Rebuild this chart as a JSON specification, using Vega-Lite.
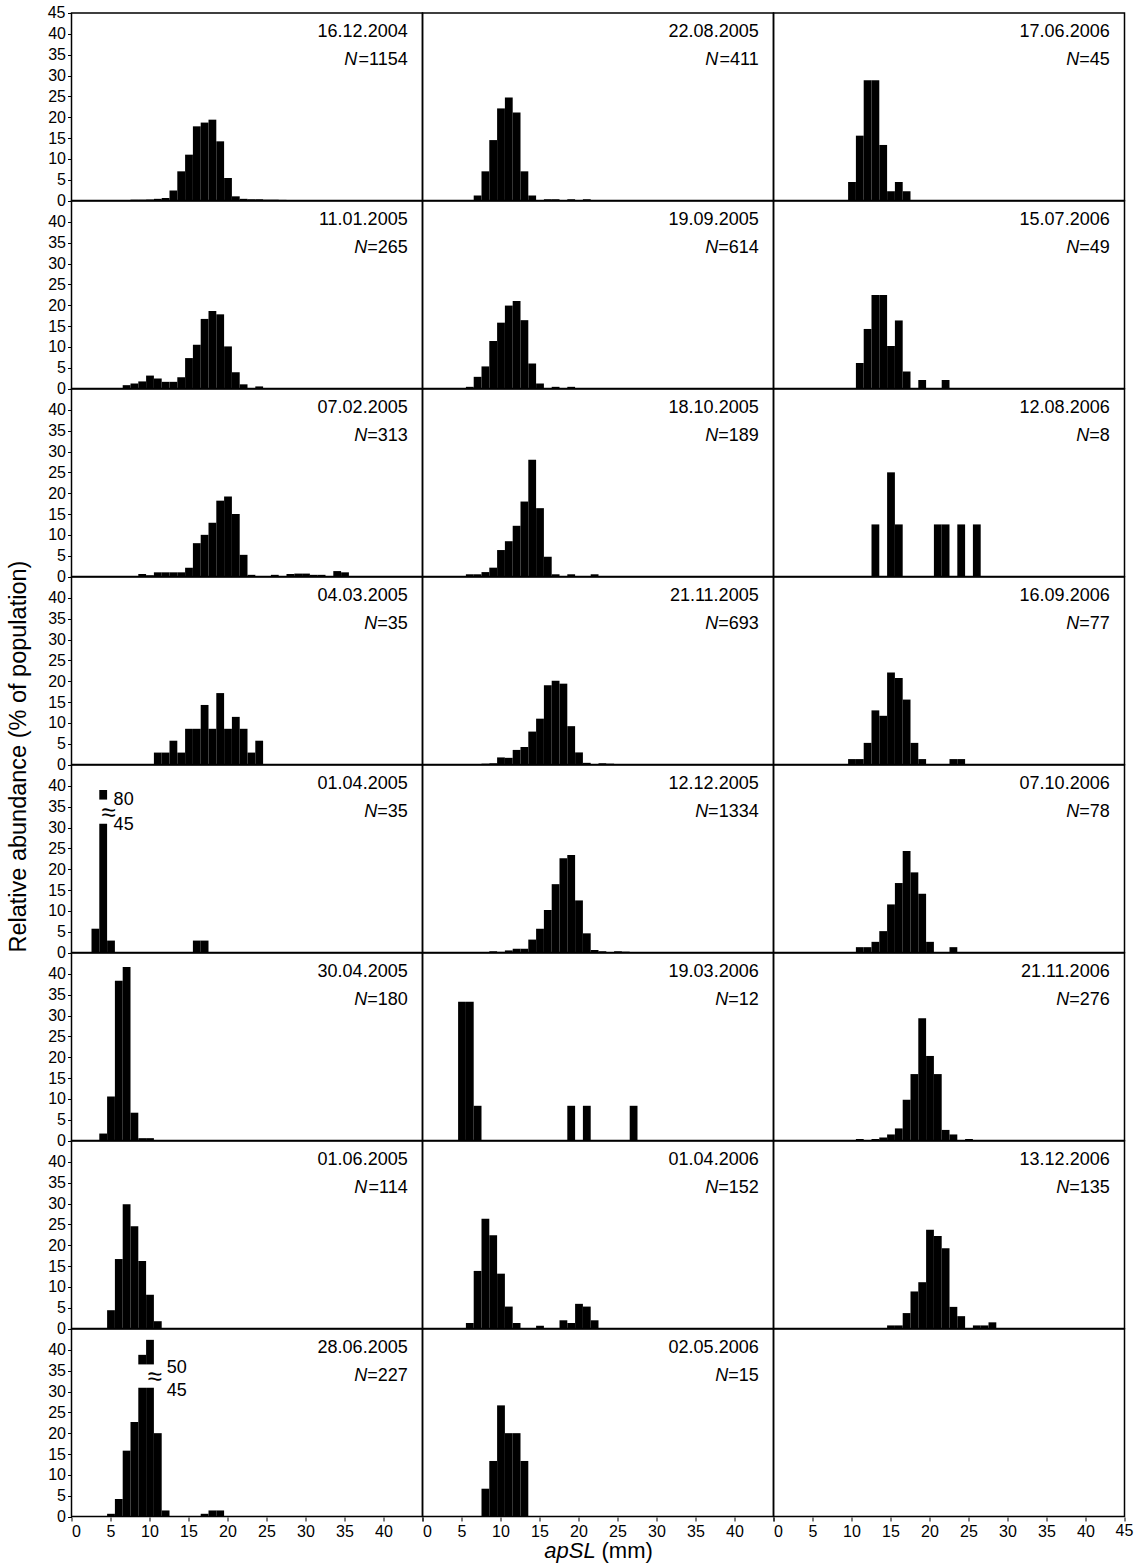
{
  "$schema": "https://vega.github.io/schema/vega-lite/v6.json",
  "background": "white",
  "padding": {"left": 5.5, "top": 4, "right": 10, "bottom": 5},
  "bounds": "flush",
  "config": {
    "font": "Liberation Sans",
    "view": {"stroke": "black", "strokeWidth": 1.5},
    "axis": {"grid": false, "domain": false, "tickColor": "black", "tickSize": 4, "labelFontSize": 16, "labelColor": "black", "labelFont": "Liberation Sans", "labelPadding": 2},
    "text": {"font": "Liberation Sans", "fontSize": 18, "color": "black"}
  },
  "data": {"values": [
    {"r":1,"c":1,"d":"16.12.2004","n":1154},
    {"r":1,"c":1,"x":7.5,"v":0.2},{"r":1,"c":1,"x":8.5,"v":0.2},{"r":1,"c":1,"x":9.5,"v":0.25},{"r":1,"c":1,"x":10.5,"v":0.4},{"r":1,"c":1,"x":11.5,"v":0.6},{"r":1,"c":1,"x":12.5,"v":2.4},{"r":1,"c":1,"x":13.5,"v":7.0},{"r":1,"c":1,"x":14.5,"v":11.0},{"r":1,"c":1,"x":15.5,"v":17.8},{"r":1,"c":1,"x":16.5,"v":18.7},{"r":1,"c":1,"x":17.5,"v":19.4},{"r":1,"c":1,"x":18.5,"v":14.2},{"r":1,"c":1,"x":19.5,"v":5.4},{"r":1,"c":1,"x":20.5,"v":1.0},{"r":1,"c":1,"x":21.5,"v":0.4},{"r":1,"c":1,"x":22.5,"v":0.3},{"r":1,"c":1,"x":23.5,"v":0.3},{"r":1,"c":1,"x":24.5,"v":0.2},{"r":1,"c":1,"x":25.5,"v":0.2},{"r":1,"c":1,"x":26.5,"v":0.15},
    {"r":1,"c":2,"d":"22.08.2005","n":411},
    {"r":1,"c":2,"x":6.5,"v":1.2},{"r":1,"c":2,"x":7.5,"v":7.0},{"r":1,"c":2,"x":8.5,"v":14.5},{"r":1,"c":2,"x":9.5,"v":22.1},{"r":1,"c":2,"x":10.5,"v":24.7},{"r":1,"c":2,"x":11.5,"v":21.1},{"r":1,"c":2,"x":12.5,"v":7.0},{"r":1,"c":2,"x":13.5,"v":1.2},{"r":1,"c":2,"x":15.5,"v":0.3},{"r":1,"c":2,"x":16.5,"v":0.3},{"r":1,"c":2,"x":18.5,"v":0.3},{"r":1,"c":2,"x":20.5,"v":0.3},
    {"r":1,"c":3,"d":"17.06.2006","n":45},
    {"r":1,"c":3,"x":9.5,"v":4.44},{"r":1,"c":3,"x":10.5,"v":15.56},{"r":1,"c":3,"x":11.5,"v":28.89},{"r":1,"c":3,"x":12.5,"v":28.89},{"r":1,"c":3,"x":13.5,"v":13.33},{"r":1,"c":3,"x":14.5,"v":2.22},{"r":1,"c":3,"x":15.5,"v":4.44},{"r":1,"c":3,"x":16.5,"v":2.22},
    {"r":2,"c":1,"d":"11.01.2005","n":265},
    {"r":2,"c":1,"x":6.5,"v":0.8},{"r":2,"c":1,"x":7.5,"v":1.2},{"r":2,"c":1,"x":8.5,"v":1.7},{"r":2,"c":1,"x":9.5,"v":3.1},{"r":2,"c":1,"x":10.5,"v":2.4},{"r":2,"c":1,"x":11.5,"v":1.6},{"r":2,"c":1,"x":12.5,"v":1.6},{"r":2,"c":1,"x":13.5,"v":2.7},{"r":2,"c":1,"x":14.5,"v":7.3},{"r":2,"c":1,"x":15.5,"v":10.5},{"r":2,"c":1,"x":16.5,"v":16.7},{"r":2,"c":1,"x":17.5,"v":18.6},{"r":2,"c":1,"x":18.5,"v":17.8},{"r":2,"c":1,"x":19.5,"v":10.1},{"r":2,"c":1,"x":20.5,"v":3.9},{"r":2,"c":1,"x":21.5,"v":1.0},{"r":2,"c":1,"x":23.5,"v":0.5},
    {"r":2,"c":2,"d":"19.09.2005","n":614},
    {"r":2,"c":2,"x":5.5,"v":0.4},{"r":2,"c":2,"x":6.5,"v":2.8},{"r":2,"c":2,"x":7.5,"v":5.3},{"r":2,"c":2,"x":8.5,"v":11.4},{"r":2,"c":2,"x":9.5,"v":15.8},{"r":2,"c":2,"x":10.5,"v":19.9},{"r":2,"c":2,"x":11.5,"v":21.0},{"r":2,"c":2,"x":12.5,"v":16.4},{"r":2,"c":2,"x":13.5,"v":6.0},{"r":2,"c":2,"x":14.5,"v":1.2},{"r":2,"c":2,"x":16.5,"v":0.4},{"r":2,"c":2,"x":18.5,"v":0.4},
    {"r":2,"c":3,"d":"15.07.2006","n":49},
    {"r":2,"c":3,"x":10.5,"v":6.12},{"r":2,"c":3,"x":11.5,"v":14.29},{"r":2,"c":3,"x":12.5,"v":22.45},{"r":2,"c":3,"x":13.5,"v":22.45},{"r":2,"c":3,"x":14.5,"v":10.2},{"r":2,"c":3,"x":15.5,"v":16.33},{"r":2,"c":3,"x":16.5,"v":4.08},{"r":2,"c":3,"x":18.5,"v":2.04},{"r":2,"c":3,"x":21.5,"v":2.04},
    {"r":3,"c":1,"d":"07.02.2005","n":313},
    {"r":3,"c":1,"x":8.5,"v":0.6},{"r":3,"c":1,"x":9.5,"v":0.3},{"r":3,"c":1,"x":10.5,"v":1.0},{"r":3,"c":1,"x":11.5,"v":1.0},{"r":3,"c":1,"x":12.5,"v":1.0},{"r":3,"c":1,"x":13.5,"v":1.0},{"r":3,"c":1,"x":14.5,"v":2.1},{"r":3,"c":1,"x":15.5,"v":8.0},{"r":3,"c":1,"x":16.5,"v":10.0},{"r":3,"c":1,"x":17.5,"v":12.9},{"r":3,"c":1,"x":18.5,"v":18.2},{"r":3,"c":1,"x":19.5,"v":19.2},{"r":3,"c":1,"x":20.5,"v":15.0},{"r":3,"c":1,"x":21.5,"v":5.2},{"r":3,"c":1,"x":22.5,"v":0.4},{"r":3,"c":1,"x":25.5,"v":0.4},{"r":3,"c":1,"x":27.5,"v":0.6},{"r":3,"c":1,"x":28.5,"v":0.7},{"r":3,"c":1,"x":29.5,"v":0.7},{"r":3,"c":1,"x":30.5,"v":0.4},{"r":3,"c":1,"x":31.5,"v":0.4},{"r":3,"c":1,"x":33.5,"v":1.3},{"r":3,"c":1,"x":34.5,"v":1.0},
    {"r":3,"c":2,"d":"18.10.2005","n":189},
    {"r":3,"c":2,"x":5.5,"v":0.53},{"r":3,"c":2,"x":6.5,"v":0.53},{"r":3,"c":2,"x":7.5,"v":1.06},{"r":3,"c":2,"x":8.5,"v":2.12},{"r":3,"c":2,"x":9.5,"v":6.35},{"r":3,"c":2,"x":10.5,"v":8.47},{"r":3,"c":2,"x":11.5,"v":12.17},{"r":3,"c":2,"x":12.5,"v":17.99},{"r":3,"c":2,"x":13.5,"v":28.04},{"r":3,"c":2,"x":14.5,"v":16.4},{"r":3,"c":2,"x":15.5,"v":4.76},{"r":3,"c":2,"x":16.5,"v":0.53},{"r":3,"c":2,"x":18.5,"v":0.53},{"r":3,"c":2,"x":21.5,"v":0.53},
    {"r":3,"c":3,"d":"12.08.2006","n":8},
    {"r":3,"c":3,"x":12.5,"v":12.5},{"r":3,"c":3,"x":14.5,"v":25},{"r":3,"c":3,"x":15.5,"v":12.5},{"r":3,"c":3,"x":20.5,"v":12.5},{"r":3,"c":3,"x":21.5,"v":12.5},{"r":3,"c":3,"x":23.5,"v":12.5},{"r":3,"c":3,"x":25.5,"v":12.5},
    {"r":4,"c":1,"d":"04.03.2005","n":35},
    {"r":4,"c":1,"x":10.5,"v":2.86},{"r":4,"c":1,"x":11.5,"v":2.86},{"r":4,"c":1,"x":12.5,"v":5.71},{"r":4,"c":1,"x":13.5,"v":2.86},{"r":4,"c":1,"x":14.5,"v":8.57},{"r":4,"c":1,"x":15.5,"v":8.57},{"r":4,"c":1,"x":16.5,"v":14.29},{"r":4,"c":1,"x":17.5,"v":8.57},{"r":4,"c":1,"x":18.5,"v":17.14},{"r":4,"c":1,"x":19.5,"v":8.57},{"r":4,"c":1,"x":20.5,"v":11.43},{"r":4,"c":1,"x":21.5,"v":8.57},{"r":4,"c":1,"x":22.5,"v":2.86},{"r":4,"c":1,"x":23.5,"v":5.71},
    {"r":4,"c":2,"d":"21.11.2005","n":693},
    {"r":4,"c":2,"x":7.5,"v":0.2},{"r":4,"c":2,"x":8.5,"v":0.3},{"r":4,"c":2,"x":9.5,"v":1.7},{"r":4,"c":2,"x":10.5,"v":1.6},{"r":4,"c":2,"x":11.5,"v":3.5},{"r":4,"c":2,"x":12.5,"v":4.2},{"r":4,"c":2,"x":13.5,"v":7.9},{"r":4,"c":2,"x":14.5,"v":11.0},{"r":4,"c":2,"x":15.5,"v":19.0},{"r":4,"c":2,"x":16.5,"v":20.1},{"r":4,"c":2,"x":17.5,"v":19.4},{"r":4,"c":2,"x":18.5,"v":9.2},{"r":4,"c":2,"x":19.5,"v":2.9},{"r":4,"c":2,"x":20.5,"v":0.4},{"r":4,"c":2,"x":22.5,"v":0.3},{"r":4,"c":2,"x":23.5,"v":0.2},
    {"r":4,"c":3,"d":"16.09.2006","n":77},
    {"r":4,"c":3,"x":9.5,"v":1.3},{"r":4,"c":3,"x":10.5,"v":1.3},{"r":4,"c":3,"x":11.5,"v":5.19},{"r":4,"c":3,"x":12.5,"v":12.99},{"r":4,"c":3,"x":13.5,"v":11.69},{"r":4,"c":3,"x":14.5,"v":22.08},{"r":4,"c":3,"x":15.5,"v":20.78},{"r":4,"c":3,"x":16.5,"v":15.58},{"r":4,"c":3,"x":17.5,"v":5.19},{"r":4,"c":3,"x":18.5,"v":1.3},{"r":4,"c":3,"x":22.5,"v":1.3},{"r":4,"c":3,"x":23.5,"v":1.3},
    {"r":5,"c":1,"d":"01.04.2005","n":35},
    {"r":5,"c":1,"x":2.5,"v":5.71},{"r":5,"c":1,"x":3.5,"v":30.9},{"r":5,"c":1,"x":4.5,"v":2.86},{"r":5,"c":1,"x":15.5,"v":2.86},{"r":5,"c":1,"x":16.5,"v":2.86},
    {"r":5,"c":1,"x":3.5,"y0":36.7,"y1":39.0},
    {"r":5,"c":1,"t":"80","ax":5.4,"ay":35.3},{"r":5,"c":1,"t":"≈","ax":3.8,"ay":31.6},{"r":5,"c":1,"t":"45","ax":5.4,"ay":29.5},
    {"r":5,"c":2,"d":"12.12.2005","n":1334},
    {"r":5,"c":2,"x":8.5,"v":0.3},{"r":5,"c":2,"x":9.5,"v":0.15},{"r":5,"c":2,"x":10.5,"v":0.5},{"r":5,"c":2,"x":11.5,"v":0.9},{"r":5,"c":2,"x":12.5,"v":0.9},{"r":5,"c":2,"x":13.5,"v":3.1},{"r":5,"c":2,"x":14.5,"v":5.7},{"r":5,"c":2,"x":15.5,"v":10.2},{"r":5,"c":2,"x":16.5,"v":16.4},{"r":5,"c":2,"x":17.5,"v":22.6},{"r":5,"c":2,"x":18.5,"v":23.4},{"r":5,"c":2,"x":19.5,"v":12.5},{"r":5,"c":2,"x":20.5,"v":4.6},{"r":5,"c":2,"x":21.5,"v":0.6},{"r":5,"c":2,"x":22.5,"v":0.3},{"r":5,"c":2,"x":24.5,"v":0.3},{"r":5,"c":2,"x":25.5,"v":0.2},
    {"r":5,"c":3,"d":"07.10.2006","n":78},
    {"r":5,"c":3,"x":10.5,"v":1.28},{"r":5,"c":3,"x":11.5,"v":1.28},{"r":5,"c":3,"x":12.5,"v":2.56},{"r":5,"c":3,"x":13.5,"v":5.13},{"r":5,"c":3,"x":14.5,"v":11.54},{"r":5,"c":3,"x":15.5,"v":16.67},{"r":5,"c":3,"x":16.5,"v":24.36},{"r":5,"c":3,"x":17.5,"v":19.23},{"r":5,"c":3,"x":18.5,"v":14.1},{"r":5,"c":3,"x":19.5,"v":2.56},{"r":5,"c":3,"x":22.5,"v":1.28},
    {"r":6,"c":1,"d":"30.04.2005","n":180},
    {"r":6,"c":1,"x":3.5,"v":1.67},{"r":6,"c":1,"x":4.5,"v":10.56},{"r":6,"c":1,"x":5.5,"v":38.33},{"r":6,"c":1,"x":6.5,"v":41.67},{"r":6,"c":1,"x":7.5,"v":6.67},{"r":6,"c":1,"x":8.5,"v":0.56},{"r":6,"c":1,"x":9.5,"v":0.56},
    {"r":6,"c":2,"d":"19.03.2006","n":12},
    {"r":6,"c":2,"x":4.5,"v":33.33},{"r":6,"c":2,"x":5.5,"v":33.33},{"r":6,"c":2,"x":6.5,"v":8.33},{"r":6,"c":2,"x":18.5,"v":8.33},{"r":6,"c":2,"x":20.5,"v":8.33},{"r":6,"c":2,"x":26.5,"v":8.33},
    {"r":6,"c":3,"d":"21.11.2006","n":276},
    {"r":6,"c":3,"x":10.5,"v":0.36},{"r":6,"c":3,"x":12.5,"v":0.36},{"r":6,"c":3,"x":13.5,"v":0.72},{"r":6,"c":3,"x":14.5,"v":1.45},{"r":6,"c":3,"x":15.5,"v":2.9},{"r":6,"c":3,"x":16.5,"v":9.78},{"r":6,"c":3,"x":17.5,"v":15.94},{"r":6,"c":3,"x":18.5,"v":29.35},{"r":6,"c":3,"x":19.5,"v":20.29},{"r":6,"c":3,"x":20.5,"v":15.94},{"r":6,"c":3,"x":21.5,"v":2.54},{"r":6,"c":3,"x":22.5,"v":1.45},{"r":6,"c":3,"x":24.5,"v":0.36},
    {"r":7,"c":1,"d":"01.06.2005","n":114},
    {"r":7,"c":1,"x":4.5,"v":4.39},{"r":7,"c":1,"x":5.5,"v":16.67},{"r":7,"c":1,"x":6.5,"v":29.82},{"r":7,"c":1,"x":7.5,"v":24.56},{"r":7,"c":1,"x":8.5,"v":16.2},{"r":7,"c":1,"x":9.5,"v":8.1},{"r":7,"c":1,"x":10.5,"v":1.75},
    {"r":7,"c":2,"d":"01.04.2006","n":152},
    {"r":7,"c":2,"x":5.5,"v":1.32},{"r":7,"c":2,"x":6.5,"v":13.82},{"r":7,"c":2,"x":7.5,"v":26.32},{"r":7,"c":2,"x":8.5,"v":22.37},{"r":7,"c":2,"x":9.5,"v":13.16},{"r":7,"c":2,"x":10.5,"v":5.26},{"r":7,"c":2,"x":11.5,"v":1.32},{"r":7,"c":2,"x":14.5,"v":0.66},{"r":7,"c":2,"x":17.5,"v":1.97},{"r":7,"c":2,"x":18.5,"v":1.32},{"r":7,"c":2,"x":19.5,"v":5.92},{"r":7,"c":2,"x":20.5,"v":5.26},{"r":7,"c":2,"x":21.5,"v":1.97},
    {"r":7,"c":3,"d":"13.12.2006","n":135},
    {"r":7,"c":3,"x":14.5,"v":0.74},{"r":7,"c":3,"x":15.5,"v":0.74},{"r":7,"c":3,"x":16.5,"v":3.7},{"r":7,"c":3,"x":17.5,"v":8.89},{"r":7,"c":3,"x":18.5,"v":11.11},{"r":7,"c":3,"x":19.5,"v":23.7},{"r":7,"c":3,"x":20.5,"v":22.22},{"r":7,"c":3,"x":21.5,"v":19.26},{"r":7,"c":3,"x":22.5,"v":5.19},{"r":7,"c":3,"x":23.5,"v":2.96},{"r":7,"c":3,"x":25.5,"v":0.74},{"r":7,"c":3,"x":26.5,"v":0.74},{"r":7,"c":3,"x":27.5,"v":1.48},
    {"r":8,"c":1,"d":"28.06.2005","n":227},
    {"r":8,"c":1,"x":4.5,"v":0.65},{"r":8,"c":1,"x":5.5,"v":4.2},{"r":8,"c":1,"x":6.5,"v":15.8},{"r":8,"c":1,"x":7.5,"v":22.7},{"r":8,"c":1,"x":8.5,"v":30.9},{"r":8,"c":1,"x":9.5,"v":30.9},{"r":8,"c":1,"x":10.5,"v":20.0},{"r":8,"c":1,"x":11.5,"v":1.45},{"r":8,"c":1,"x":16.5,"v":0.65},{"r":8,"c":1,"x":17.5,"v":1.45},{"r":8,"c":1,"x":18.5,"v":1.45},
    {"r":8,"c":1,"x":8.5,"y0":36.5,"y1":38.8},{"r":8,"c":1,"x":9.5,"y0":36.5,"y1":42.4},
    {"r":8,"c":1,"t":"50","ax":12.2,"ay":34.4},{"r":8,"c":1,"t":"≈","ax":9.75,"ay":31.6},{"r":8,"c":1,"t":"45","ax":12.2,"ay":29.0},
    {"r":8,"c":2,"d":"02.05.2006","n":15},
    {"r":8,"c":2,"x":7.5,"v":6.67},{"r":8,"c":2,"x":8.5,"v":13.33},{"r":8,"c":2,"x":9.5,"v":26.67},{"r":8,"c":2,"x":10.5,"v":20},{"r":8,"c":2,"x":11.5,"v":20},{"r":8,"c":2,"x":12.5,"v":13.33},
    {"r":8,"c":3}
  ]},
  "facet": {
    "row": {"field": "r", "type": "ordinal", "header": {"labels": false, "title": null}},
    "column": {"field": "c", "type": "ordinal", "header": {"labels": false, "title": null}}
  },
  "spacing": 0,
  "spec": {
    "width": 351,
    "height": 187.5,
    "encoding": {
      "x": {"type": "quantitative", "scale": {"domain": [0, 45], "nice": false}, "axis": {"values": [0,5,10,15,20,25,30,35,40,45], "labelExpr": "datum.value == 45 ? '' : datum.label", "title": null}},
      "y": {"type": "quantitative", "scale": {"domain": [0, 45], "nice": false}, "axis": {"values": [0,5,10,15,20,25,30,35,40,45], "labelExpr": "datum.value == 45 ? '' : datum.label", "title": null}}
    },
    "layer": [
      {
        "transform": [{"filter": "isValid(datum.v)"}],
        "mark": {"type": "bar", "color": "black", "binSpacing": 0},
        "encoding": {
          "x": {"field": "x", "type": "quantitative", "bin": {"binned": true, "step": 1}},
          "y": {"field": "v", "type": "quantitative"}
        }
      },
      {
        "transform": [{"filter": "isValid(datum.y1)"}],
        "mark": {"type": "bar", "color": "black", "binSpacing": 0},
        "encoding": {
          "x": {"field": "x", "type": "quantitative", "bin": {"binned": true, "step": 1}},
          "y": {"field": "y0", "type": "quantitative"},
          "y2": {"field": "y1"}
        }
      },
      {
        "transform": [{"filter": "isValid(datum.d)"}],
        "mark": {"type": "text", "align": "right", "baseline": "alphabetic"},
        "encoding": {
          "text": {"field": "d"},
          "x": {"datum": 43.1},
          "y": {"datum": 39.3}
        }
      },
      {
        "transform": [{"filter": "isValid(datum.n)"}],
        "mark": {"type": "text", "align": "right", "baseline": "alphabetic", "text": {"expr": "'=' + datum.n"}},
        "encoding": {
          "x": {"datum": 43.1},
          "y": {"datum": 32.5}
        }
      },
      {
        "transform": [{"filter": "isValid(datum.n)"}],
        "mark": {"type": "text", "align": "right", "baseline": "alphabetic", "fontStyle": "italic", "text": "N", "dx": {"expr": "-(0.584 + 0.556 * length('' + datum.n)) * 18"}},
        "encoding": {
          "x": {"datum": 43.1},
          "y": {"datum": 32.5}
        }
      },
      {
        "transform": [{"filter": "isValid(datum.t) && datum.t != '≈'"}],
        "mark": {"type": "text", "align": "left", "baseline": "alphabetic"},
        "encoding": {
          "text": {"field": "t"},
          "x": {"field": "ax", "type": "quantitative"},
          "y": {"field": "ay", "type": "quantitative"}
        }
      },
      {
        "transform": [{"filter": "datum.t == '≈'"}],
        "mark": {"type": "text", "align": "left", "baseline": "alphabetic", "fontSize": 26},
        "encoding": {
          "text": {"field": "t"},
          "x": {"field": "ax", "type": "quantitative"},
          "y": {"field": "ay", "type": "quantitative"}
        }
      },
      {
        "transform": [{"filter": "datum.r == 1 && datum.c == 1 && isValid(datum.d)"}],
        "mark": {"type": "text", "align": "right", "baseline": "middle", "fontSize": 16, "text": "45", "dx": -6},
        "encoding": {
          "x": {"datum": 0},
          "y": {"datum": 45}
        }
      },
      {
        "transform": [{"filter": "datum.r == 8 && datum.c == 3"}],
        "mark": {"type": "text", "align": "center", "baseline": "top", "fontSize": 16, "text": "45", "dy": 6},
        "encoding": {
          "x": {"datum": 45},
          "y": {"datum": 0}
        }
      },
      {
        "transform": [{"filter": "datum.r == 4 && datum.c == 1 && isValid(datum.d)"}],
        "mark": {"type": "text", "align": "center", "baseline": "middle", "angle": 270, "fontSize": 23.5, "text": "Relative abundance (% of population)"},
        "encoding": {
          "x": {"datum": -6.7},
          "y": {"datum": 1.9}
        }
      },
      {
        "transform": [{"filter": "datum.r == 8 && datum.c == 2 && isValid(datum.d)"}],
        "mark": {"type": "text", "align": "right", "baseline": "alphabetic", "fontStyle": "italic", "fontSize": 22, "text": "apSL"},
        "encoding": {
          "x": {"datum": 22.2},
          "y": {"datum": -10}
        }
      },
      {
        "transform": [{"filter": "datum.r == 8 && datum.c == 2 && isValid(datum.d)"}],
        "mark": {"type": "text", "align": "left", "baseline": "alphabetic", "fontSize": 22, "text": "(mm)"},
        "encoding": {
          "x": {"datum": 22.95},
          "y": {"datum": -10}
        }
      }
    ]
  }
}
